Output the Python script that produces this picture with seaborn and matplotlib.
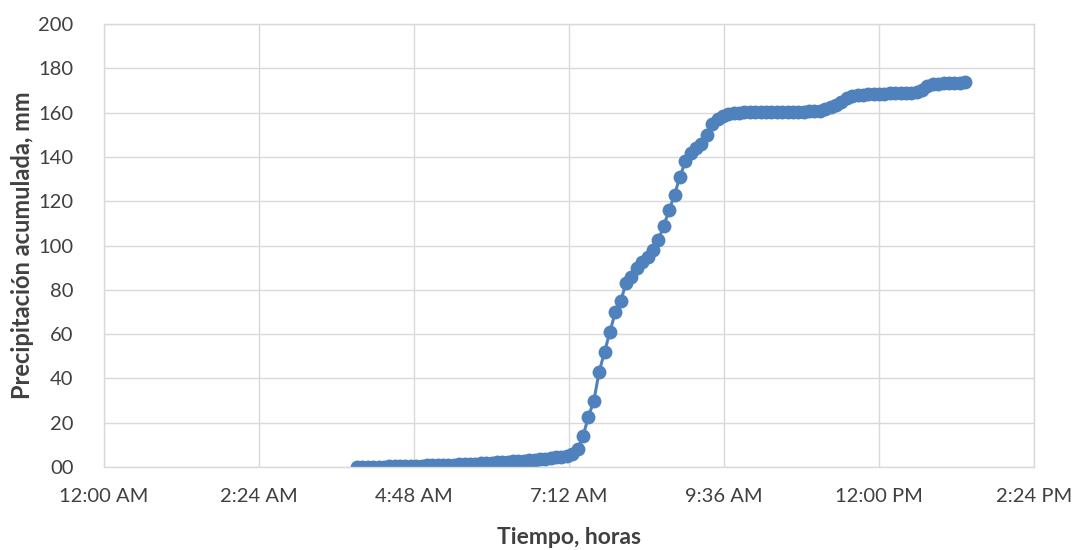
import matplotlib
matplotlib.use("Agg")
import matplotlib.pyplot as plt
import seaborn as sns
import pandas as pd

# Rain-gauge readings, one every five minutes
times = [
    "03:55",
    "04:00", "04:05", "04:10", "04:15", "04:20", "04:25", "04:30", "04:35", "04:40", "04:45", "04:50", "04:55",
    "05:00", "05:05", "05:10", "05:15", "05:20", "05:25", "05:30", "05:35", "05:40", "05:45", "05:50", "05:55",
    "06:00", "06:05", "06:10", "06:15", "06:20", "06:25", "06:30", "06:35", "06:40", "06:45", "06:50", "06:55",
    "07:00", "07:05", "07:10", "07:15", "07:20", "07:25", "07:30", "07:35", "07:40", "07:45", "07:50", "07:55",
    "08:00", "08:05", "08:10", "08:15", "08:20", "08:25", "08:30", "08:35", "08:40", "08:45", "08:50", "08:55",
    "09:00", "09:05", "09:10", "09:15", "09:20", "09:25", "09:30", "09:35", "09:40", "09:45", "09:50", "09:55",
    "10:00", "10:05", "10:10", "10:15", "10:20", "10:25", "10:30", "10:35", "10:40", "10:45", "10:50", "10:55",
    "11:00", "11:05", "11:10", "11:15", "11:20", "11:25", "11:30", "11:35", "11:40", "11:45", "11:50", "11:55",
    "12:00", "12:05", "12:10", "12:15", "12:20", "12:25", "12:30", "12:35", "12:40", "12:45", "12:50", "12:55",
    "13:00", "13:05", "13:10", "13:15", "13:20",
]

precip_mm = [
    0.0,
    0.0, 0.0, 0.0, 0.2, 0.2, 0.3, 0.3, 0.4, 0.4, 0.5, 0.5, 0.6,
    0.7, 0.8, 0.9, 1.0, 1.0, 1.1, 1.2, 1.3, 1.4, 1.5, 1.6, 1.8,
    2.0, 2.1, 2.2, 2.4, 2.5, 2.6, 2.8, 3.0, 3.2, 3.5, 3.8, 4.0,
    4.3, 4.6, 5.0, 6.0, 8.0, 14.0, 22.6, 29.8, 43.0, 52.0, 61.0, 70.0,
    75.0, 83.0, 86.0, 90.0, 92.5, 95.0, 98.0, 102.5, 109.0, 116.0, 123.0, 131.0,
    138.0, 142.0, 144.0, 146.0, 150.0, 155.0, 157.0, 158.5, 159.5, 160.0, 160.0, 160.2,
    160.2, 160.3, 160.3, 160.3, 160.3, 160.4, 160.4, 160.4, 160.4, 160.5, 160.5, 160.6,
    160.8, 161.0, 161.5, 162.5, 163.5, 165.0, 166.5, 167.5, 168.0, 168.2, 168.3, 168.4,
    168.5, 168.6, 168.7, 168.8, 168.8, 168.9, 169.0, 169.5, 170.5, 172.0, 173.0, 173.2,
    173.3, 173.4, 173.5, 173.6, 174.0,
]

x_ticks = [0, 2.4, 4.8, 7.2, 9.6, 12.0, 14.4]
x_tick_labels = ["12:00 AM", "2:24 AM", "4:48 AM", "7:12 AM", "9:36 AM", "12:00 PM", "2:24 PM"]
y_ticks = [0, 20, 40, 60, 80, 100, 120, 140, 160, 180, 200]
y_tick_labels = ["00", "20", "40", "60", "80", "100", "120", "140", "160", "180", "200"]

hours = [int(t[:2]) + int(t[3:]) / 60 for t in times]
df = pd.DataFrame({"hora": hours, "precip": precip_mm})

sns.set_style("white")
plt.rcParams["font.family"] = ["Lato", "DejaVu Sans"]

BLUE = "#4F81BD"
GRID = "#D9D9D9"
TEXT = "#404040"

fig = plt.figure(figsize=(10.77, 5.5), dpi=100)
ax = fig.add_axes([0.0966, 0.151, 0.8635, 0.805])

sns.lineplot(data=df, x="hora", y="precip", ax=ax, color=BLUE, linewidth=2.2,
             marker="o", markersize=10, markeredgewidth=0, markerfacecolor=BLUE)

ax.set_xlim(0, 14.4)
ax.set_ylim(0, 200)
ax.set_xticks(x_ticks)
ax.set_xticklabels(x_tick_labels)
ax.set_yticks(y_ticks)
ax.set_yticklabels(y_tick_labels)

ax.grid(True, color=GRID, linewidth=1.0)
ax.set_axisbelow(True)
for side in ["top", "right", "left", "bottom"]:
    ax.spines[side].set_color(GRID)
    ax.spines[side].set_linewidth(1.0)

ax.tick_params(axis="both", length=0, labelsize=14.5, colors=TEXT)
ax.tick_params(axis="x", pad=15)
ax.tick_params(axis="y", pad=22)

ax.set_xlabel("Tiempo, horas", fontsize=16.5, fontweight="bold", color=TEXT, labelpad=16)
ax.set_ylabel("Precipitación acumulada, mm", fontsize=17, fontweight="bold", color=TEXT, labelpad=3)

fig.savefig("out.png", dpi=100)
